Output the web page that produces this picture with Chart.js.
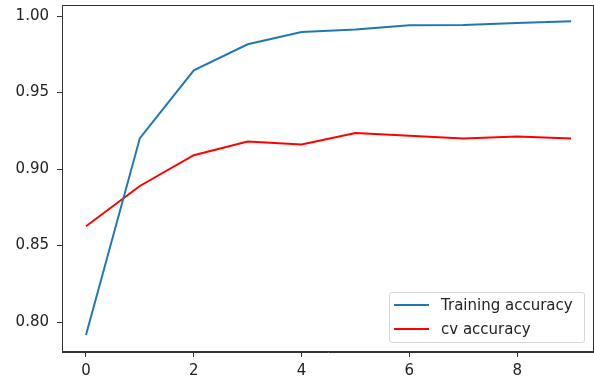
<!DOCTYPE html>
<html>
<head>
<meta charset="utf-8">
<script src="https://cdn.jsdelivr.net/npm/chart.js@4.4.1/dist/chart.umd.min.js"></script>
<style>
  html, body { margin: 0; padding: 0; background: #fff; }
  #wrap { position: relative; width: 594px; height: 382px; }
  #legend {
    position: absolute; left: 389px; top: 292px; width: 194px; height: 49px;
    border: 1px solid #d6d6d6; border-radius: 3px; background: rgba(255,255,255,0.8);
    font-family: "DejaVu Sans", sans-serif; font-size: 15px; color: #222;
  }
  .item { position: absolute; left: 0; height: 20px; width: 194px; }
  .swatch { position: absolute; left: 4px; width: 35px; height: 2px; top: 9px; }
  .label { position: absolute; left: 51px; top: 0; line-height: 20px; white-space: nowrap; }
</style>
</head>
<body>
<div id="wrap">
  <canvas id="c" width="594" height="382"></canvas>
  <div id="legend"></div>
</div>
<script>
const epochs = [0, 1, 2, 3, 4, 5, 6, 7, 8, 9];
const trainingAccuracy = [0.7915, 0.9202, 0.9645, 0.9815, 0.9895, 0.9912, 0.9940, 0.9942, 0.9955, 0.9965];
const cvAccuracy = [0.8626, 0.8889, 0.9090, 0.9180, 0.9160, 0.9235, 0.9218, 0.9200, 0.9212, 0.9200];
const seriesLabels = ["Training accuracy", "cv accuracy"];
const xTickValues = [0, 2, 4, 6, 8];
const yTickValues = [0.80, 0.85, 0.90, 0.95, 1.00];

const blue = "#1f77b4";
const red = "#ff0000";
const font = { family: "DejaVu Sans", size: 15 };

const framePlugin = {
  id: "frame",
  afterDraw(chart) {
    const a = chart.chartArea, ctx = chart.ctx;
    ctx.save();
    ctx.strokeStyle = "#333";
    ctx.lineWidth = 1;
    ctx.strokeRect(Math.round(a.left) + 0.5, Math.round(a.top) + 0.5,
                   Math.round(a.right - a.left) - 1, Math.round(a.bottom - a.top) - 1);
    ctx.restore();
  }
};

const chart = new Chart(document.getElementById("c"), {
  type: "line",
  data: {
    datasets: [
      { label: seriesLabels[0], data: epochs.map((e, i) => ({ x: e, y: trainingAccuracy[i] })),
        borderColor: blue, backgroundColor: blue, borderWidth: 2, pointRadius: 0, tension: 0 },
      { label: seriesLabels[1], data: epochs.map((e, i) => ({ x: e, y: cvAccuracy[i] })),
        borderColor: red, backgroundColor: red, borderWidth: 2, pointRadius: 0, tension: 0 }
    ]
  },
  options: {
    responsive: false,
    animation: false,
    layout: { padding: { top: 5, right: 0, left: 0, bottom: 0 } },
    plugins: { legend: { display: false }, tooltip: { enabled: false } },
    scales: {
      x: {
        type: "linear", min: -0.445, max: 9.425,
        afterBuildTicks: s => { s.ticks = xTickValues.map(v => ({ value: v })); },
        afterFit: s => { s.height = 30; s.paddingLeft = 0; s.paddingRight = 0; },
        grid: { drawOnChartArea: false, drawTicks: true, tickLength: 5, tickColor: "#333" },
        border: { display: true, color: "#333" },
        ticks: { font, color: "#222", padding: 5, maxRotation: 0, callback: v => String(v) }
      },
      y: {
        type: "linear", min: 0.7804, max: 1.0072,
        afterBuildTicks: s => { s.ticks = yTickValues.map(v => ({ value: v })); },
        afterFit: s => { s.width = 62; s.paddingTop = 0; s.paddingBottom = 0; },
        grid: { drawOnChartArea: false, drawTicks: true, tickLength: 5, tickColor: "#333" },
        border: { display: true, color: "#333" },
        ticks: { font, color: "#222", padding: 8, callback: v => Number(v).toFixed(2) }
      }
    }
  },
  plugins: [framePlugin]
});

const legend = document.getElementById("legend");
chart.data.datasets.forEach((ds, i) => {
  const item = document.createElement("div");
  item.className = "item";
  item.style.top = (2 + i * 24) + "px";
  const sw = document.createElement("div");
  sw.className = "swatch";
  sw.style.background = ds.borderColor;
  const lb = document.createElement("div");
  lb.className = "label";
  lb.textContent = ds.label;
  item.appendChild(sw); item.appendChild(lb);
  legend.appendChild(item);
});
</script>
</body>
</html>
